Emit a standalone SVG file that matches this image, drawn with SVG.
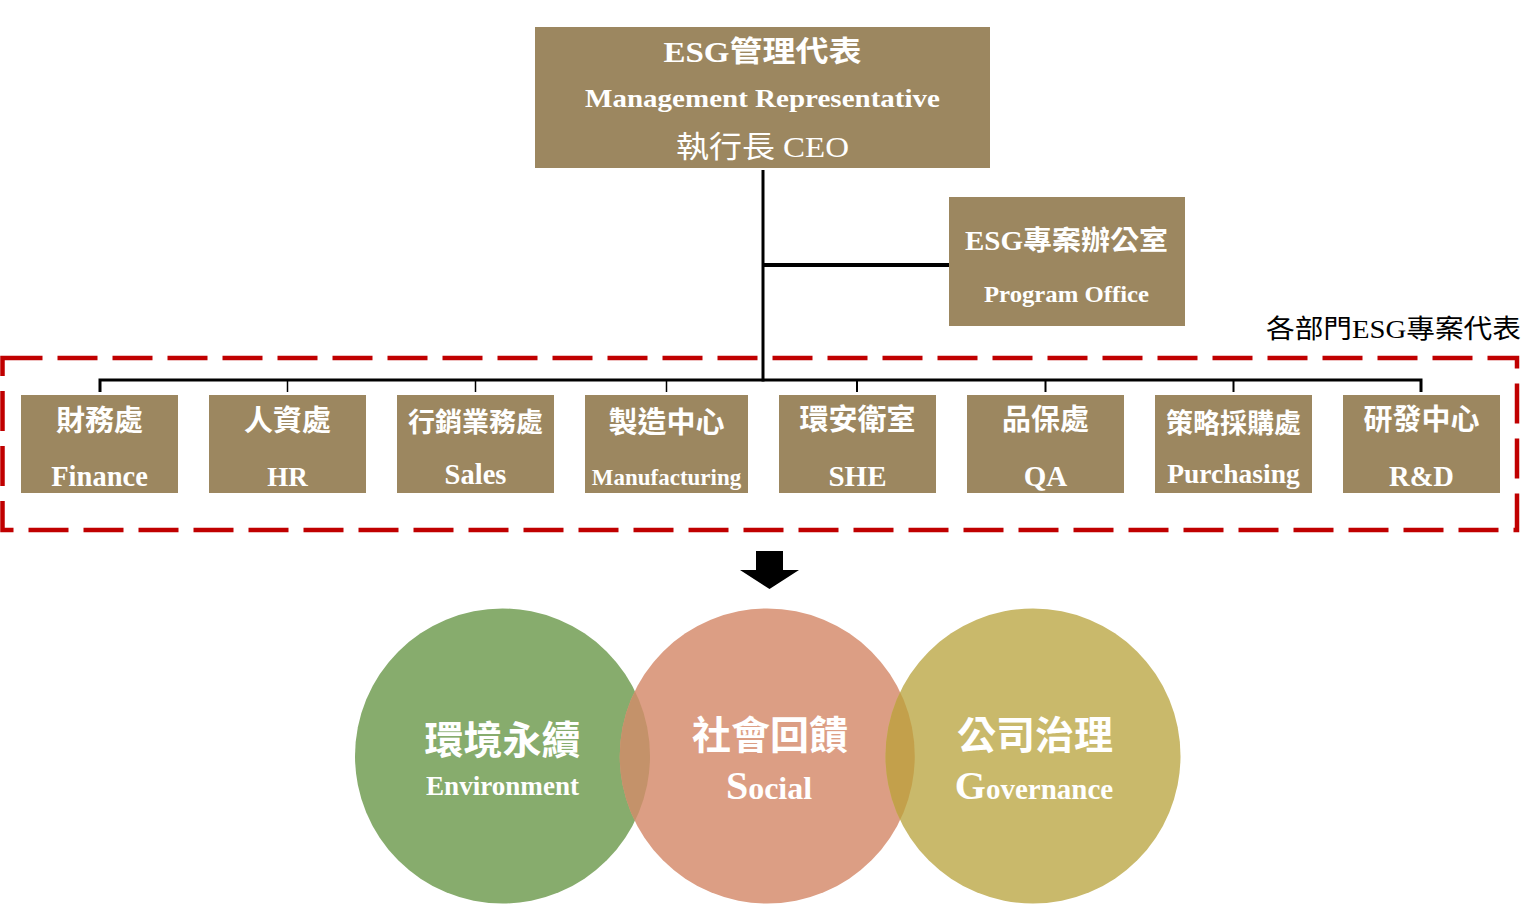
<svg xmlns="http://www.w3.org/2000/svg" width="1538" height="905" viewBox="0 0 1538 905">
<style>
  .box { fill: #9c8760; }
  .t { font-family: 'Liberation Serif', 'Noto Sans CJK TC', serif; fill: #ffffff; text-anchor: middle; }
  .b { font-weight: bold; }
  .cjk { font-family: 'Noto Sans CJK TC', 'Liberation Sans', sans-serif; font-weight: bold; fill: #ffffff; text-anchor: middle; }
  .line { stroke: #000000; fill: none; }
</style>
<defs>
  <clipPath id="clipPink"><circle cx="767.25" cy="756" r="147.5"/></clipPath>
  <clipPath id="clipGold"><circle cx="1033" cy="756" r="147.5"/></clipPath>
</defs>
<rect width="1538" height="905" fill="#ffffff"/>

<g id="connectors">
  <line class="line" x1="763" y1="170" x2="763" y2="381.5" stroke-width="3"/>
  <line class="line" x1="763" y1="265" x2="950" y2="265" stroke-width="4"/>
  <polyline class="line" points="100,392 100,380 1421,380 1421,392" stroke-width="3"/>
  <line class="line" x1="287.5" y1="380" x2="287.5" y2="392" stroke-width="1.5"/>
  <line class="line" x1="475.5" y1="380" x2="475.5" y2="392" stroke-width="1.5"/>
  <line class="line" x1="666.5" y1="380" x2="666.5" y2="392" stroke-width="1.5"/>
  <line class="line" x1="857" y1="380" x2="857" y2="392" stroke-width="2"/>
  <line class="line" x1="1045.5" y1="380" x2="1045.5" y2="392" stroke-width="2"/>
  <line class="line" x1="1233.5" y1="380" x2="1233.5" y2="392" stroke-width="2"/>
  <polygon points="756,551 783,551 783,570 799,570 769.5,589 740,570 756,570" fill="#000000"/>
</g>

<g id="group-frame">
  <path d="M2.5,358 H1517 V530 H2.5 Z" fill="none" stroke="#c00000" stroke-width="4.5" stroke-dasharray="40 15"/>
  <text x="1266" y="338" font-family="'Liberation Serif', 'Noto Sans CJK TC', serif" font-size="26" fill="#000000" textLength="255" lengthAdjust="spacingAndGlyphs">各部門ESG專案代表</text>
</g>

<g id="node-ceo">
  <rect class="box" x="535" y="27" width="455" height="141"/>
  <text class="t b" x="762.5" y="62" font-size="29" textLength="198" lengthAdjust="spacingAndGlyphs">ESG管理代表</text>
  <text class="t b" x="762.5" y="107" font-size="26" textLength="355" lengthAdjust="spacingAndGlyphs">Management Representative</text>
  <text class="t" x="762.5" y="157" font-size="30" textLength="173" lengthAdjust="spacingAndGlyphs">執行長 CEO</text>
</g>

<g id="node-pmo">
  <rect class="box" x="949" y="197" width="236" height="129"/>
  <text class="t b" x="1066.5" y="250" font-size="27" textLength="203" lengthAdjust="spacingAndGlyphs">ESG專案辦公室</text>
  <text class="t b" x="1066.5" y="302" font-size="23" textLength="165" lengthAdjust="spacingAndGlyphs">Program Office</text>
</g>

<g id="node-finance">
  <rect class="box" x="21" y="395" width="157" height="98"/>
  <text class="cjk" x="99.5" y="431" font-size="29">財務處</text>
  <text class="t b" x="99.5" y="486" font-size="28.5">Finance</text>
</g>
<g id="node-hr">
  <rect class="box" x="209" y="395" width="157" height="98"/>
  <text class="cjk" x="287.5" y="431" font-size="29">人資處</text>
  <text class="t b" x="287.5" y="486" font-size="27">HR</text>
</g>
<g id="node-sales">
  <rect class="box" x="397" y="395" width="157" height="98"/>
  <text class="cjk" x="475.5" y="432" font-size="27">行銷業務處</text>
  <text class="t b" x="475.5" y="484" font-size="28.5">Sales</text>
</g>
<g id="node-mfg">
  <rect class="box" x="585" y="395" width="163" height="98"/>
  <text class="cjk" x="666.5" y="433" font-size="29">製造中心</text>
  <text class="t b" x="666.5" y="485" font-size="23">Manufacturing</text>
</g>
<g id="node-she">
  <rect class="box" x="779" y="395" width="157" height="98"/>
  <text class="cjk" x="857.5" y="430" font-size="29">環安衛室</text>
  <text class="t b" x="857.5" y="486" font-size="29">SHE</text>
</g>
<g id="node-qa">
  <rect class="box" x="967" y="395" width="157" height="98"/>
  <text class="cjk" x="1045.5" y="430" font-size="29">品保處</text>
  <text class="t b" x="1045.5" y="486" font-size="29">QA</text>
</g>
<g id="node-purchasing">
  <rect class="box" x="1155" y="395" width="157" height="98"/>
  <text class="cjk" x="1233.5" y="433" font-size="27">策略採購處</text>
  <text class="t b" x="1233.5" y="483" font-size="27.5">Purchasing</text>
</g>
<g id="node-rd">
  <rect class="box" x="1343" y="395" width="157" height="98"/>
  <text class="cjk" x="1421.5" y="430" font-size="29">研發中心</text>
  <text class="t b" x="1421.5" y="486" font-size="28.5">R&amp;D</text>
</g>

<g id="node-environment">
  <circle cx="502.5" cy="756" r="147.5" fill="#87ac6d"/>
  <text class="cjk" x="502.5" y="754" font-size="39">環境永續</text>
  <text class="t b" x="502.5" y="795" font-size="28" textLength="153" lengthAdjust="spacingAndGlyphs">Environment</text>
</g>
<g id="node-social">
  <circle cx="767.25" cy="756" r="147.5" fill="#dc9e84"/>
  <circle cx="502.5" cy="756" r="147.5" fill="#c4926a" clip-path="url(#clipPink)"/>
  <text class="cjk" x="770" y="749" font-size="39">社會回饋</text>
  <text class="t b" x="769" y="799"><tspan font-size="40">S</tspan><tspan font-size="32">ocial</tspan></text>
</g>
<g id="node-governance">
  <circle cx="1033" cy="756" r="147.5" fill="#c9b96b"/>
  <circle cx="767.25" cy="756" r="147.5" fill="#c3a04b" clip-path="url(#clipGold)"/>
  <text class="cjk" x="1035" y="749" font-size="39">公司治理</text>
  <text class="t b" x="1034" y="799"><tspan font-size="40">G</tspan><tspan font-size="29">overnance</tspan></text>
</g>
</svg>
